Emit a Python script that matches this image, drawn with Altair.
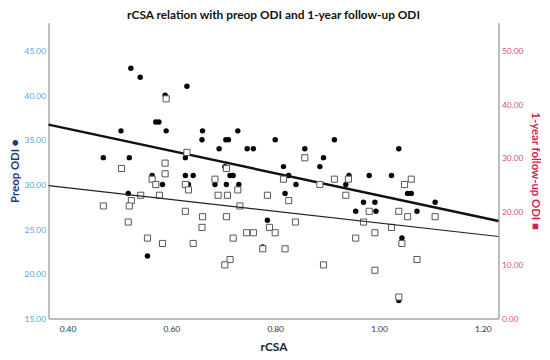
import altair as alt
import pandas as pd

# Preop ODI (filled circles, left axis)
preop_rcsa = [0.522, 0.540, 0.630, 0.588, 0.570, 0.576, 0.503, 0.590, 0.660, 0.659,
              0.692, 0.469, 0.519, 0.627, 0.563, 0.627, 0.642, 0.728, 0.705, 0.710,
              0.800, 0.914, 0.746, 0.758, 0.857, 0.893, 0.703, 0.816, 0.886, 0.713,
              0.719, 0.826, 0.942, 0.981, 1.038, 1.024, 0.583, 0.633, 0.684, 0.517,
              0.554, 0.706, 0.730, 0.819, 0.840, 0.936, 0.970, 0.992, 0.955, 0.994,
              0.785, 0.776, 1.055, 1.062, 1.108, 1.073, 1.044, 1.038]
preop_odi = [43, 42, 41, 40, 37, 37, 36, 36, 36, 35,
             34, 33, 33, 33, 31, 31, 31, 36, 35, 35,
             35, 35, 34, 34, 34, 33, 32, 32, 32, 31,
             31, 31, 31, 31, 34, 31, 30, 30, 30, 29,
             22, 30, 30, 29, 30, 30, 28, 28, 27, 27,
             26, 23, 29, 29, 28, 27, 24, 17]

# 1-year follow-up ODI (open squares, right axis)
fu_rcsa = [0.590, 0.630, 0.504, 0.588, 0.588, 0.563, 0.684, 0.857, 0.706, 0.816,
           0.914, 0.941, 1.062, 0.570, 0.627, 0.633, 0.690, 0.541, 0.577, 0.523,
           0.469, 0.519, 0.627, 0.660, 0.517, 0.659, 0.554, 0.583, 0.642, 0.728,
           0.708, 0.785, 0.826, 0.886, 0.936, 0.732, 0.981, 0.706, 0.789, 0.839,
           0.970, 0.745, 0.758, 0.800, 0.719, 0.955, 0.992, 0.776, 0.819, 0.713,
           0.703, 0.893, 0.992, 1.049, 1.038, 1.055, 1.108, 1.024, 1.044, 1.073,
           1.038]
fu_odi = [41, 31, 28, 29, 27, 26, 26, 30, 28, 26,
          26, 26, 26, 25, 25, 24, 23, 23, 23, 22,
          21, 21, 20, 19, 18, 17, 15, 14, 14, 24,
          23, 23, 22, 25, 23, 21, 20, 19, 17, 18,
          18, 16, 16, 16, 15, 15, 16, 13, 13, 11,
          10, 10, 9, 25, 20, 19, 19, 17, 14, 11,
          4]

# Fitted regression lines, read at the ends of the x range
fit_rcsa = [0.3635, 1.23]
preop_fit = [36.7, 25.9]
fu_fit = [24.8, 15.3]

preop_df = pd.DataFrame({"rcsa": preop_rcsa, "odi": preop_odi})
fu_df = pd.DataFrame({"rcsa": fu_rcsa, "odi": fu_odi})
preop_fit_df = pd.DataFrame({"rcsa": fit_rcsa, "odi": preop_fit})
fu_fit_df = pd.DataFrame({"rcsa": fit_rcsa, "odi": fu_fit})

FONT = "Lato"

x_enc = alt.X(
    "rcsa:Q",
    scale=alt.Scale(domain=[0.3635, 1.23], nice=False, zero=False),
    axis=alt.Axis(
        title="rCSA", values=[0.4, 0.6, 0.8, 1.0, 1.2], format=".2f",
        labelColor="#333333", labelFontSize=8.5, labelPadding=6,
        titleFontSize=12, titleFontWeight="bold", titleColor="#222222",
        titlePadding=9,
    ),
)

y_left = alt.Y(
    "odi:Q",
    scale=alt.Scale(domain=[15, 48.1], nice=False, zero=False),
    axis=alt.Axis(
        orient="left", title="Preop ODI ●", values=[15, 20, 25, 30, 35, 40, 45],
        format=".2f", labelColor="#5da5da", labelFontSize=8.5, labelPadding=3,
        titleColor="#1f3a7a", titleFontSize=11.5, titleFontWeight="bold",
        titlePadding=4,
    ),
)

y_right = alt.Y(
    "odi:Q",
    scale=alt.Scale(domain=[0, 55.2], nice=False, zero=False),
    axis=alt.Axis(
        orient="right", title="1-year follow-up ODI ■", values=[0, 10, 20, 30, 40, 50],
        format=".2f", labelColor="#e0506e", labelFontSize=8.5, labelPadding=3,
        titleColor="#d81e4b", titleFontSize=11.5, titleFontWeight="bold",
        titlePadding=7,
    ),
)

circles = alt.Chart(preop_df).mark_point(
    shape="circle", filled=True, color="#000000", size=30, opacity=1
).encode(x=x_enc, y=y_left)

preop_line = alt.Chart(preop_fit_df).mark_line(
    color="#111111", strokeWidth=2.5
).encode(x=x_enc, y=y_left)

squares = alt.Chart(fu_df).mark_point(
    shape="square", filled=False, fill="#ffffff", fillOpacity=1,
    stroke="#555555", strokeWidth=1, size=38, opacity=1
).encode(x=x_enc, y=y_right)

fu_line = alt.Chart(fu_fit_df).mark_line(
    color="#222222", strokeWidth=1.2
).encode(x=x_enc, y=y_right)

left_layer = alt.layer(circles, preop_line)
right_layer = alt.layer(squares, fu_line)

chart = alt.layer(left_layer, right_layer).resolve_scale(
    y="independent"
).properties(
    width=455,
    height=299,
    autosize=alt.AutoSizeParams(type="none"),
    padding={"left": 41, "top": 13, "right": 44, "bottom": 33},
    title=alt.TitleParams(
        "rCSA relation with preop ODI and 1-year follow-up ODI",
        fontSize=12, fontWeight="bold", color="#111111", anchor="middle",
        offset=1, font=FONT,
    ),
).configure(
    font=FONT,
).configure_view(
    stroke=None,
).configure_axis(
    grid=False, ticks=False, tickSize=0, domainColor="#a6a6a6", domainWidth=1.5,
    labelFont=FONT, titleFont=FONT,
)

chart.save("out.html", embed_options={"renderer": "svg", "actions": False})
